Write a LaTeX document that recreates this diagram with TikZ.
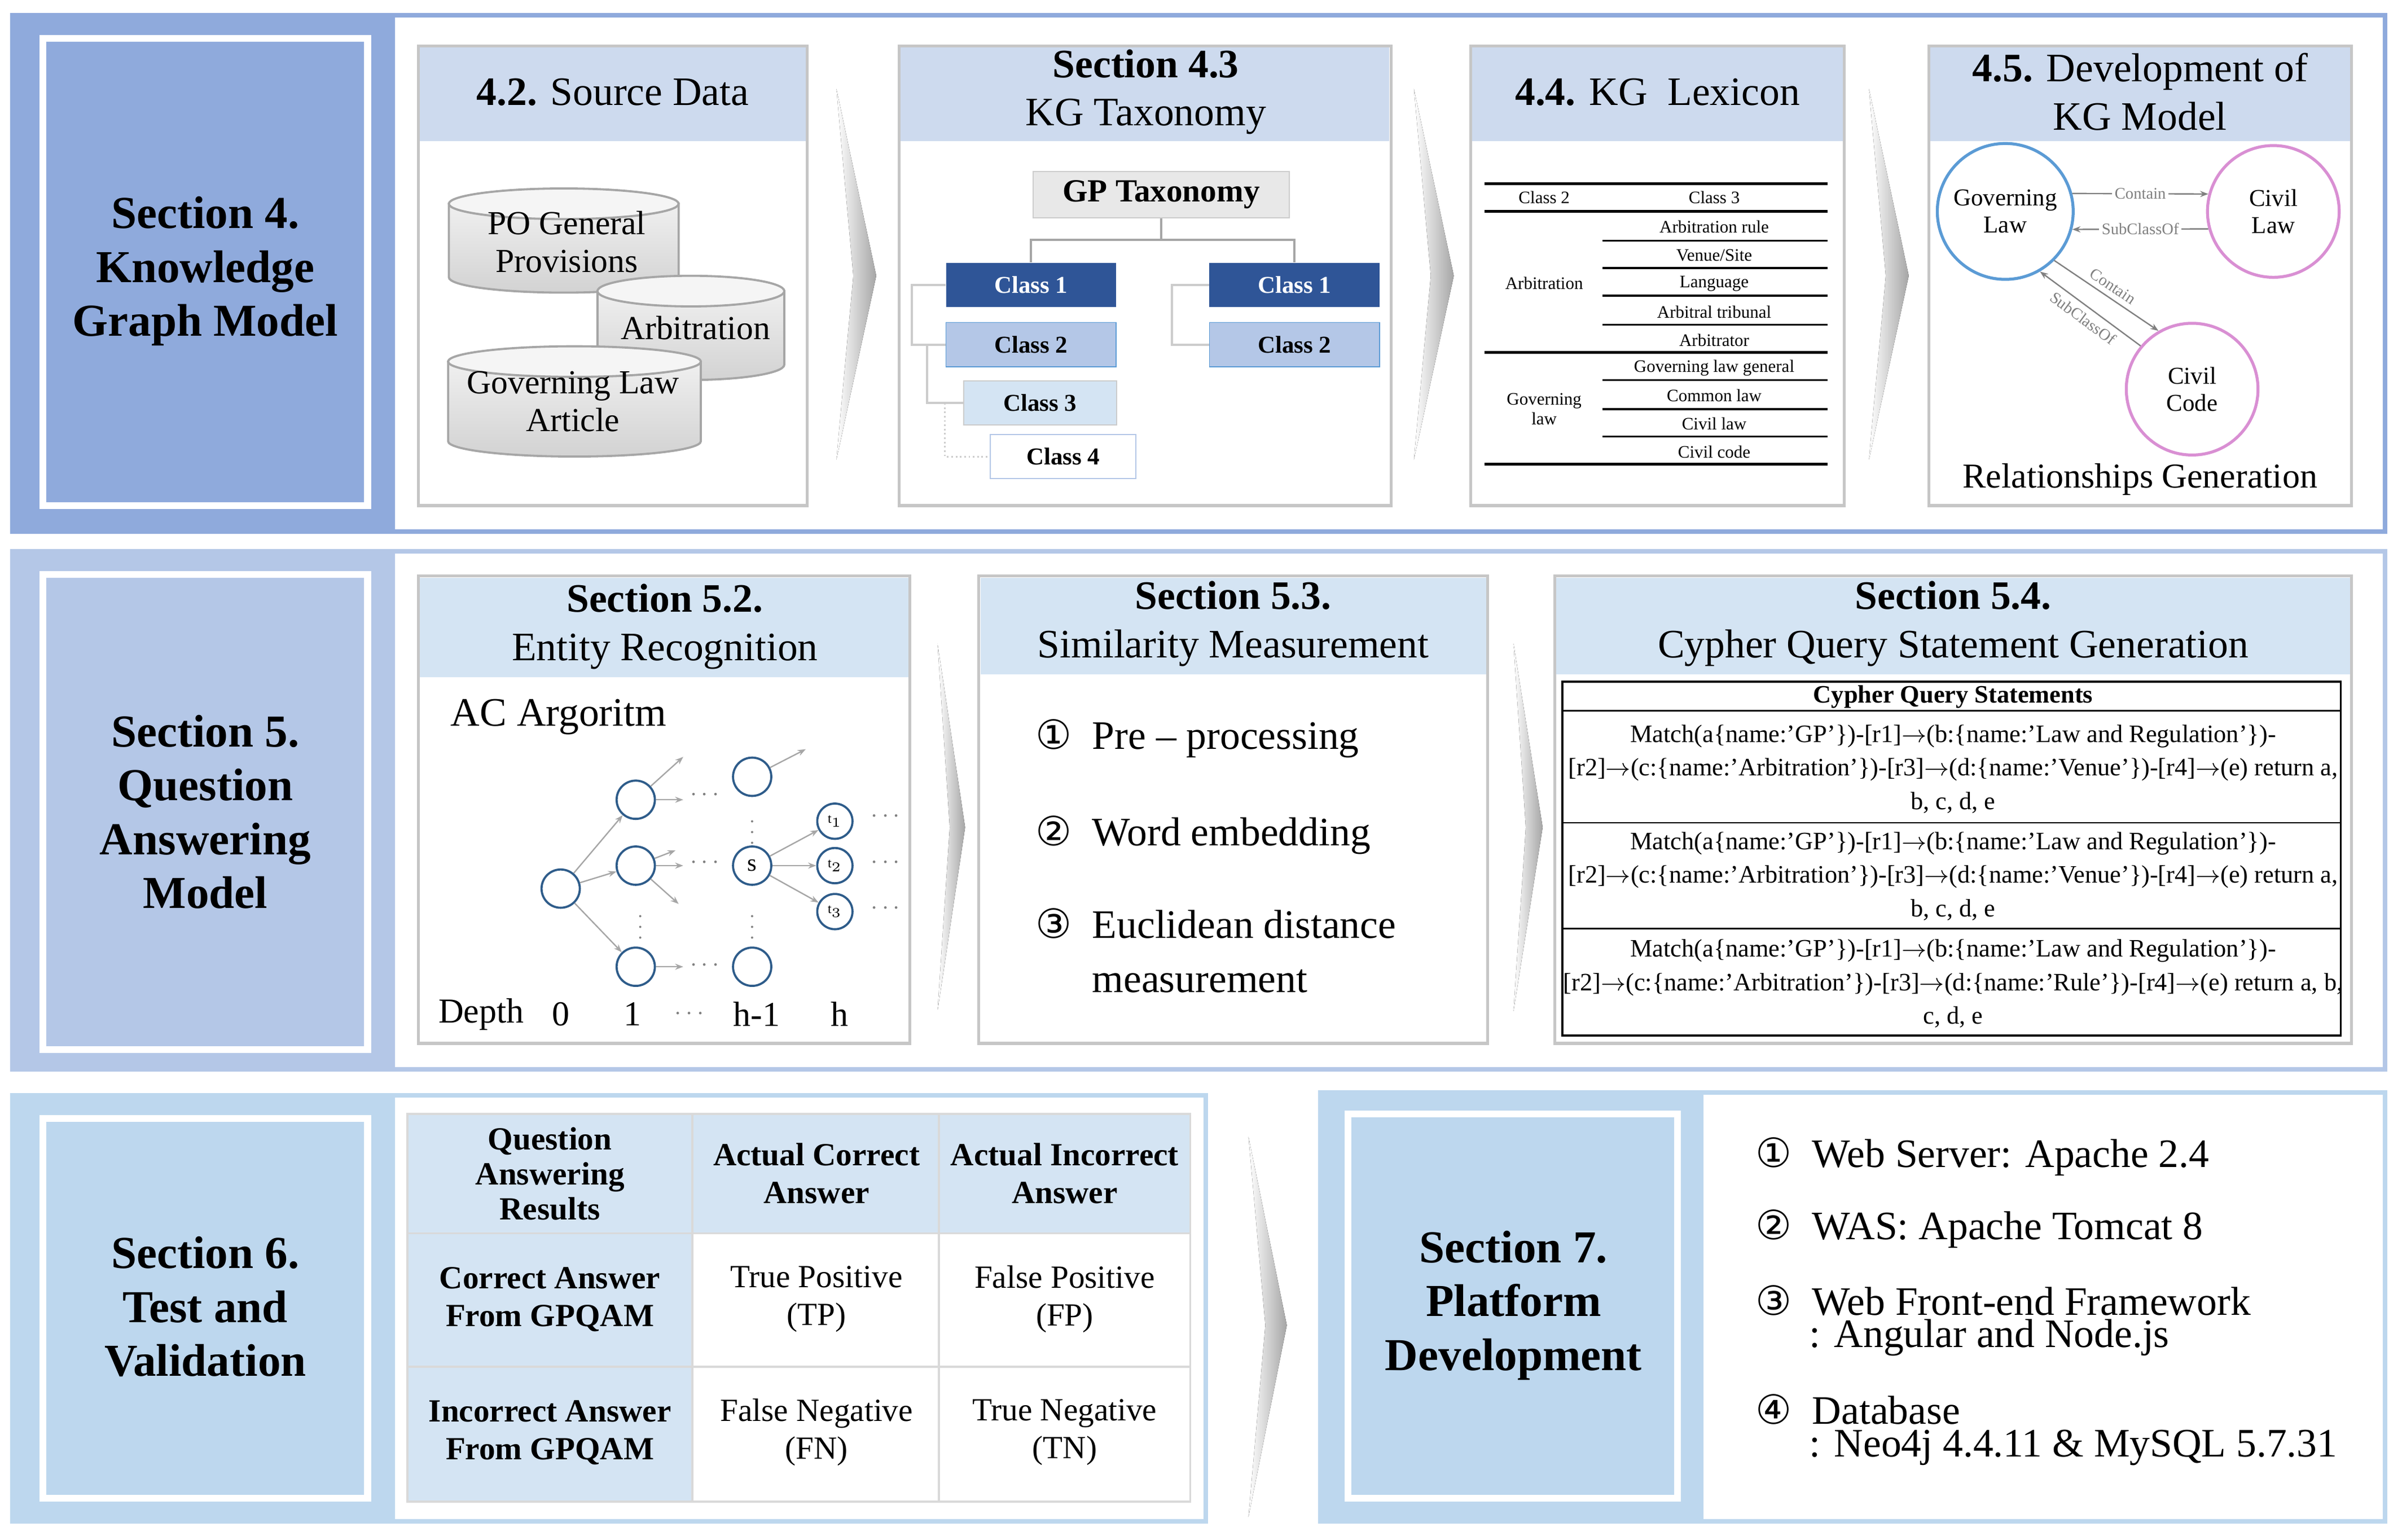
\documentclass[tikz,border=0pt]{standalone}
\usepackage{fontspec}
\setmainfont{Liberation Serif}
\newfontfamily\circfont{DejaVu Sans}
\usetikzlibrary{shapes,shapes.geometric,arrows.meta,positioning,calc}
\definecolor{bandA}{HTML}{8FAADC}
\definecolor{bandB}{HTML}{B4C7E7}
\definecolor{bandC}{HTML}{BDD7EE}
\definecolor{headA}{HTML}{CDDAEE}
\definecolor{headB}{HTML}{D4E4F3}
\definecolor{navy}{HTML}{2F5597}
\definecolor{nodeblue}{HTML}{2E5C8A}
\definecolor{glblue}{HTML}{5B9BD5}
\definecolor{orchid}{HTML}{D98FD3}
\newcommand{\cnum}[1]{{\circfont #1}}
% cylinder: centre x, top y, half width, height
\newcommand{\dbshape}[4]{%
  \filldraw[dbbody] ($(#1,#2)+(-#3,0)$) -- ++(0,#4) arc[start angle=180, end angle=360, x radius=#3, y radius=0.2cm] -- ($(#1,#2)+(#3,0)$) -- cycle;
  \filldraw[dbtop] (#1,#2) ellipse[x radius=#3, y radius=0.2cm];}
\begin{document}
\begin{tikzpicture}[x=0.02cm,y=-0.02cm,
    band/.style={draw=#1, line width=1.7pt},
    panel/.style={draw=white, line width=2.6pt},
    card/.style={draw=gray!45, line width=1.1pt},
    ptitle/.style={font=\fontsize{17}{20}\selectfont\bfseries, align=center},
    htitle/.style={font=\fontsize{15}{18}\selectfont, align=center},
    chev/.style={left color=white, right color=gray!70, draw=none},
    cls/.style={minimum width=2.22cm, minimum height=0.58cm, font=\fontsize{9}{10}\selectfont\bfseries, inner sep=0pt},
    lex/.style={font=\fontsize{6.5}{7.5}\selectfont, align=center},
    dbbody/.style={draw=gray!70, line width=0.8pt, top color=gray!12, bottom color=gray!35},
    dbtop/.style={draw=gray!70, line width=0.8pt, fill=gray!8},
    dbtxt/.style={font=\fontsize{12.5}{14}\selectfont, align=center},
    kg/.style={circle, line width=1.1pt, minimum size=1.72cm, font=\fontsize{9}{10}\selectfont, align=center},
    rel/.style={-{Stealth[length=3pt]}, gray, line width=0.5pt},
    rlab/.style={font=\fontsize{6}{7}\selectfont, fill=white, inner sep=1pt},
    tn/.style={circle, draw=nodeblue, line width=0.8pt, minimum size=0.5cm, inner sep=0pt, font=\fontsize{9}{10}\selectfont},
    tarr/.style={-{Stealth[length=3pt]}, gray!70, line width=0.5pt},
    gdots/.style={gray, font=\fontsize{9}{10}\selectfont, inner sep=0pt},
    body/.style={font=\fontsize{15}{17}\selectfont, anchor=west, align=left},
    cy/.style={font=\fontsize{9.3}{12.5}\selectfont, align=center},
    tb/.style={font=\fontsize{12}{14}\selectfont, align=center}
]
\useasboundingbox (0,0) rectangle (1568,1005);

% ---------- row 1: knowledge graph model
\fill[bandA] (8,10) rectangle (258,347);
\draw[band=bandA] (8,10) rectangle (1557,347);
\draw[panel] (28,25) rectangle (240,330);
\node[ptitle] (kgm) at (134,177) {Section 4.\\Knowledge\\Graph Model};

% source data card
\draw[card] (273,30) rectangle (527,330);
\fill[headA] (274,31) rectangle (526,92);
\node[htitle] (srcH) at (400,60) {\textbf{4.2.} Source Data};
\dbshape{368}{133}{1.5cm}{48}
\node[dbtxt] (poT) at (370,158) {PO General\\Provisions};
\dbshape{451}{190}{1.22cm}{48}
\node[dbtxt] (arbT) at (454,214) {Arbitration};
\dbshape{375}{236}{1.65cm}{52}
\node[dbtxt] (govT) at (374,262) {Governing Law\\Article};

\fill[chev] (546,58) -- (572,180) -- (546,300) -- (557,180) -- cycle;

% taxonomy card
\draw[card] (587,30) rectangle (908,330);
\fill[headA] (588,31) rectangle (907,92);
\node[htitle] (taxH) at (748,60) {\textbf{Section 4.3}\\KG Taxonomy};
\node[minimum width=3.34cm, minimum height=0.6cm, fill=gray!18, draw=gray!40, font=\fontsize{12}{13}\selectfont\bfseries] (gp) at (758,127) {GP Taxonomy};
\node[cls, fill=navy, text=white] (c1a) at (673,186) {Class 1};
\node[cls, fill=navy, text=white] (c1b) at (845,186) {Class 1};
\node[cls, fill=bandB, draw=glblue] (c2a) at (673,225) {Class 2};
\node[cls, fill=bandB, draw=glblue] (c2b) at (845,225) {Class 2};
\node[cls, minimum width=2cm, fill=headB, draw=gray!40] (c3) at (679,263) {Class 3};
\node[cls, minimum width=1.9cm, fill=white, draw=bandB] (c4) at (694,298) {Class 4};
\draw[gray!70, line width=0.8pt] (gp.south) -- ++(0,14) -| (c1a.north);
\draw[gray!70, line width=0.8pt] (gp.south) -- ++(0,14) -| (c1b.north);
\draw[gray!40, line width=0.8pt] (c1a.west) -- ++(-22,0) |- (c2a.west);
\draw[gray!40, line width=0.8pt] (c1b.west) -- ++(-24,0) |- (c2b.west);
\draw[gray!40, line width=0.8pt] (c2a.west) ++(-12,0) |- (c3.west);
\draw[gray!40, line width=0.6pt, densely dotted] (c3.west) ++(-12,0) |- (c4.west);

\fill[chev] (923,58) -- (949,180) -- (923,300) -- (934,180) -- cycle;

% lexicon card
\draw[card] (960,30) rectangle (1204,330);
\fill[headA] (961,31) rectangle (1203,92);
\node[htitle] (lexH) at (1082,60) {\textbf{4.4.} KG\ \ Lexicon};
\foreach \y in {120,138,230,303} \draw[line width=1pt] (969,\y) -- (1193,\y);
\foreach \y in {157,175,193,212,248,267,285} \draw[line width=0.7pt] (1046,\y) -- (1193,\y);
\node[lex] (hc2) at (1008,129) {Class 2};
\node[lex] (hc3) at (1119,129) {Class 3};
\foreach \t [count=\i] in {Arbitration rule,Venue/Site,Language,Arbitral tribunal,Arbitrator}
  \node[lex] (la\i) at (1119,148+18.5*\i-18.5) {\t};
\foreach \t [count=\i] in {Governing law general,Common law,Civil law,Civil code}
  \node[lex] (lg\i) at (1119,240+18.3*\i-18.3) {\t};
\node[lex] (larb) at (1008,185) {Arbitration};
\node[lex] (lgov) at (1008,267) {Governing\\law};

\fill[chev] (1220,58) -- (1246,180) -- (1220,300) -- (1231,180) -- cycle;

% KG model card
\draw[card] (1259,30) rectangle (1535,330);
\fill[headA] (1260,31) rectangle (1534,92);
\node[htitle] (kgH) at (1397,60) {\textbf{4.5.} Development of\\KG Model};
\node[kg, draw=glblue] (gl) at (1309,138) {Governing\\Law};
\node[kg, draw=orchid] (cl) at (1484,138) {Civil\\Law};
\node[kg, draw=orchid] (cc) at (1431,254) {Civil\\Code};
\draw[rel] (gl.15) -- node[rlab] {Contain} (cl.165);
\draw[rel] (cl.-165) -- node[rlab] {SubClassOf} (gl.-15);
\draw[rel] (gl.-45) -- node[rlab, sloped, above=1pt, fill=none] {Contain} (cc.120);
\draw[rel] (cc.140) -- node[rlab, sloped, below=1pt, fill=none] {SubClassOf} (gl.-60);
\node[font=\fontsize{13}{15}\selectfont] (relg) at (1397,313) {Relationships Generation};

% ---------- row 2: question answering model
\fill[bandB] (8,360) rectangle (258,698);
\draw[band=bandB] (8,360) rectangle (1557,698);
\draw[panel] (28,375) rectangle (240,685);
\node[ptitle] (qam) at (134,530) {Section 5.\\Question\\Answering\\Model};

% entity recognition card
\draw[card] (273,376) rectangle (594,681);
\fill[headB] (274,377) rectangle (593,442);
\node[htitle] (entH) at (434,409) {\textbf{Section 5.2.}\\Entity Recognition};
\node[body, font=\fontsize{15}{17}\selectfont] (ac) at (288,468) {AC Argoritm};
\node[tn] (r0) at (366,580) {};
\node[tn] (a1) at (415,522) {};
\node[tn] (b1) at (415,565) {};
\node[tn] (d1) at (415,631) {};
\node[tn] (a2) at (491,507) {};
\node[tn] (s) at (491,565) {s};
\node[tn] (d2) at (491,631) {};
\node[tn, minimum size=0.46cm] (t1) at (545,536) {\tiny t$_1$};
\node[tn, minimum size=0.46cm] (t2) at (545,565) {\tiny t$_2$};
\node[tn, minimum size=0.46cm] (t3) at (545,595) {\tiny t$_3$};
\foreach \n in {a1,b1,d1} \draw[tarr] (r0) -- (\n);
\foreach \n in {t1,t2,t3} \draw[tarr] (s) -- (\n);
\coordinate (ea1) at (446,494); \coordinate (eb1) at (446,522);
\coordinate (ec1) at (441,555); \coordinate (ed1) at (446,565);
\coordinate (ee1) at (443,590); \coordinate (ef1) at (446,631);
\coordinate (ea2) at (526,489);
\draw[tarr] (a1) -- (ea1); \draw[tarr] (a1) -- (eb1);
\draw[tarr] (b1) -- (ec1); \draw[tarr] (b1) -- (ed1); \draw[tarr] (b1) -- (ee1);
\draw[tarr] (d1) -- (ef1); \draw[tarr] (a2) -- (ea2);
\foreach \x/\y in {460/519,460/563,460/630,578/533,578/563,578/593}
  \node[gdots] at (\x,\y) {$\cdots$};
\foreach \x/\y in {418/600,491/538,491/600}
  \node[gdots, font=\fontsize{7}{8}\selectfont] at (\x,\y) {$\vdots$};
\node[body] (dep) at (280,662) {\fontsize{13}{15}\selectfont Depth};
\node[font=\fontsize{13}{15}\selectfont] (dp0) at (366,662) {0};
\node[font=\fontsize{13}{15}\selectfont] (dp1) at (413,662) {1};
\node[gdots] (dpd) at (450,662) {$\cdots$};
\node[font=\fontsize{13}{15}\selectfont] (dph1) at (494,662) {h-1};
\node[font=\fontsize{13}{15}\selectfont] (dph) at (548,662) {h};

\fill[chev] (612,420) -- (630,540) -- (612,660) -- (620,540) -- cycle;

% similarity card
\draw[card] (639,376) rectangle (971,681);
\fill[headB] (640,377) rectangle (970,440);
\node[htitle] (simH) at (805,407) {\textbf{Section 5.3.}\\Similarity Measurement};
\node[body] (s1) at (670,482) {\cnum{①}\ \ Pre -- processing};
\node[body] (s2) at (670,545) {\cnum{②}\ \ Word embedding};
\node[body] (s3) at (670,624) {\cnum{③}\ \ \begin{tabular}[t]{@{}l@{}}Euclidean distance\\[3pt] measurement\end{tabular}};

\fill[chev] (988,420) -- (1007,540) -- (988,660) -- (996,540) -- cycle;

% cypher card
\draw[card] (1015,376) rectangle (1535,681);
\fill[headB] (1016,377) rectangle (1534,440);
\node[htitle] (cyH) at (1275,407) {\textbf{Section 5.4.}\\Cypher Query Statement Generation};
\draw[line width=0.8pt] (1020,445) rectangle (1528,676);
\foreach \y in {464,537,606} \draw[line width=0.6pt] (1020,\y) -- (1528,\y);
\node[cy, font=\fontsize{9.3}{11}\selectfont\bfseries] (cyT) at (1275,455) {Cypher Query Statements};
\node[cy] (q1) at (1275,502) {Match(a\{name:'GP'\})-[r1]$\rightarrow$(b:\{name:'Law and Regulation'\})-\\{}[r2]$\rightarrow$(c:\{name:'Arbitration'\})-[r3]$\rightarrow$(d:\{name:'Venue'\})-[r4]$\rightarrow$(e) return a,\\ b, c, d, e};
\node[cy] (q2) at (1275,572) {Match(a\{name:'GP'\})-[r1]$\rightarrow$(b:\{name:'Law and Regulation'\})-\\{}[r2]$\rightarrow$(c:\{name:'Arbitration'\})-[r3]$\rightarrow$(d:\{name:'Venue'\})-[r4]$\rightarrow$(e) return a,\\ b, c, d, e};
\node[cy] (q3) at (1275,642) {Match(a\{name:'GP'\})-[r1]$\rightarrow$(b:\{name:'Law and Regulation'\})-\\{}[r2]$\rightarrow$(c:\{name:'Arbitration'\})-[r3]$\rightarrow$(d:\{name:'Rule'\})-[r4]$\rightarrow$(e) return a, b,\\ c, d, e};

% ---------- row 3: test and validation
\fill[bandC] (8,715) rectangle (258,993);
\draw[band=bandC] (8,715) rectangle (787,993);
\draw[panel] (28,730) rectangle (240,978);
\node[ptitle] (tv) at (134,853) {Section 6.\\Test and\\Validation};
\fill[headB] (266,727) rectangle (777,805);
\fill[headB] (266,805) rectangle (452,980);
\draw[gray!30, line width=0.8pt] (266,727) rectangle (777,980);
\foreach \x in {452,613} \draw[gray!30, line width=0.8pt] (\x,727) -- (\x,980);
\foreach \y in {805,892} \draw[gray!30, line width=0.8pt] (266,\y) -- (777,\y);
\node[tb, font=\fontsize{12}{13}\selectfont\bfseries] (qh) at (359,766) {Question\\Answering\\Results};
\node[tb, font=\fontsize{12}{14}\selectfont\bfseries] (ach) at (533,766) {Actual Correct\\Answer};
\node[tb, font=\fontsize{12}{14}\selectfont\bfseries] (aih) at (695,766) {Actual Incorrect\\Answer};
\node[tb, font=\fontsize{12}{14}\selectfont\bfseries] (cr) at (359,848) {Correct Answer\\From GPQAM};
\node[tb, font=\fontsize{12}{14}\selectfont\bfseries] (ir) at (359,935) {Incorrect Answer\\From GPQAM};
\node[tb] (tp) at (533,848) {True Positive\\(TP)};
\node[tb] (fp) at (695,848) {False Positive\\(FP)};
\node[tb] (fn) at (533,935) {False Negative\\(FN)};
\node[tb] (tn) at (695,935) {True Negative\\(TN)};

\fill[chev] (815,742) -- (840,865) -- (815,990) -- (826,865) -- cycle;

% ---------- row 3: platform development
\fill[bandC] (862,713) rectangle (1112,993);
\draw[band=bandC] (862,713) rectangle (1557,993);
\draw[panel] (880,727) rectangle (1095,978);
\node[ptitle] (pd) at (988,852) {Section 7.\\Platform\\Development};
\node[body] (w1) at (1140,755) {\cnum{①}\ \ Web Server: Apache 2.4};
\node[body] (w2) at (1140,802) {\cnum{②}\ \ WAS: Apache Tomcat 8};
\node[body] (w3) at (1140,849) {\cnum{③}\ \ Web Front-end Framework};
\node[body] (w3b) at (1175,873) {: Angular and Node.js};
\node[body] (w4) at (1140,920) {\cnum{④}\ \ Database};
\node[body] (w4b) at (1175,945) {: Neo4j 4.4.11 \& MySQL 5.7.31};
\end{tikzpicture}
\end{document}
